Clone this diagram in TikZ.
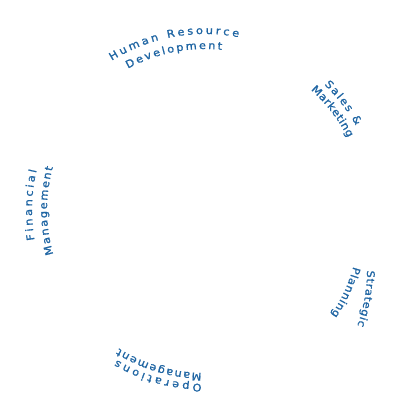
\documentclass[tikz,border=0pt]{standalone}
\usepackage{fontspec}
\usepackage{tikz}
\usetikzlibrary{decorations.text}
\usepackage{xcolor}
\definecolor{cblue}{HTML}{1F65A3}
\newfontfamily\dvsans[FakeStretch=1.08,FakeBold=1.2]{DejaVu Sans}
\newcommand\lblfont{\dvsans\fontsize{10.5}{13}\selectfont\color{cblue}}

\begin{document}
\begin{tikzpicture}[x=1pt, y=1pt,
  lbl/.style={decorate, decoration={text along path,
              text align={fit to path}, text={|\lblfont|#1}}}
]
  \useasboundingbox (0,0) rectangle (400,416);
  \coordinate (ctr) at (205,206);
  \coordinate (ctrst) at (197.1,147);
  \coordinate (ctrpl) at (200.9,190.8);

  % top
  \path[lbl={Human Resource}] ([shift={(122:176pt)}]ctr)
    arc[start angle=122, end angle=79, radius=176pt];
  \path[lbl={Development}] ([shift={(118.6:161pt)}]ctr)
    arc[start angle=118.6, end angle=84, radius=161pt];

  % right
  \path[lbl={Sales {\&}}] ([shift={(46.4:173pt)}]ctr)
    arc[start angle=46.4, end angle=29.2, radius=173pt];
  \path[lbl={Marketing}] ([shift={(48.6:160pt)}]ctr)
    arc[start angle=48.6, end angle=26.8, radius=160pt];

  % lower right
  \path[lbl={Strategic}] ([shift={(-0.5:170pt)}]ctrst)
    arc[start angle=-0.5, end angle=-19.5, radius=170pt];
  \path[lbl={Planning}] ([shift={(-15.2:158pt)}]ctrpl)
    arc[start angle=-15.2, end angle=-34.6, radius=158pt];

  % bottom
  \path[lbl={Operations}] ([shift={(-91.1:174pt)}]ctr)
    arc[start angle=-91.1, end angle=-120.5, radius=174pt];
  \path[lbl={Management}] ([shift={(-91.2:163pt)}]ctr)
    arc[start angle=-91.2, end angle=-121.9, radius=163pt];

  % left
  \path[lbl={Financial}] ([shift={(190:173pt)}]ctr)
    arc[start angle=190, end angle=166.7, radius=173pt];
  \path[lbl={Management}] ([shift={(196.3:158pt)}]ctr)
    arc[start angle=196.3, end angle=164.3, radius=158pt];
\end{tikzpicture}
\end{document}
